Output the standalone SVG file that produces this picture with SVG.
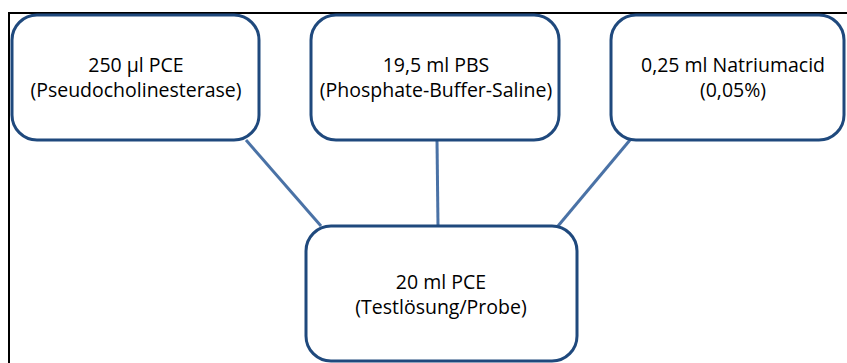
<svg xmlns="http://www.w3.org/2000/svg" width="847" height="363" viewBox="0 0 847 363">
<style>
.node{fill:#ffffff;stroke:#1F497D;stroke-width:3}
.lbl{font-family:"Open Sans","Noto Sans","Liberation Sans",sans-serif;font-size:19.5px;fill:#000000;text-anchor:middle}
.conn{stroke:#4A72A6;stroke-width:3;fill:none}
.frame{stroke:#000000;stroke-width:2;fill:none}
</style>
<rect x="0" y="0" width="847" height="363" fill="#ffffff"/>
<path class="frame" d="M9,363 V13 H847"/>
<g id="connectors">
<line class="conn" x1="246" y1="140" x2="321" y2="226"/>
<line class="conn" x1="437" y1="140" x2="438" y2="226"/>
<line class="conn" x1="630" y1="140" x2="558" y2="226"/>
</g>
<g id="node-pce">
<rect class="node" x="12" y="15" width="247" height="125" rx="25"/>
<text class="lbl" x="136" y="72">250 µl PCE</text>
<text class="lbl" x="136" y="97">(Pseudocholinesterase)</text>
</g>
<g id="node-pbs">
<rect class="node" x="311" y="15" width="248" height="125" rx="25"/>
<text class="lbl" x="436" y="72">19,5 ml PBS</text>
<text class="lbl" x="436" y="97">(Phosphate-Buffer-Saline)</text>
</g>
<g id="node-natrium">
<rect class="node" x="611" y="15" width="233" height="125" rx="25"/>
<text class="lbl" x="733" y="72">0,25 ml Natriumacid</text>
<text class="lbl" x="733" y="97">(0,05%)</text>
</g>
<g id="node-probe">
<rect class="node" x="306" y="226" width="271" height="135" rx="25"/>
<text class="lbl" x="441" y="289">20 ml PCE</text>
<text class="lbl" x="441" y="314">(Testlösung/Probe)</text>
</g>
</svg>
